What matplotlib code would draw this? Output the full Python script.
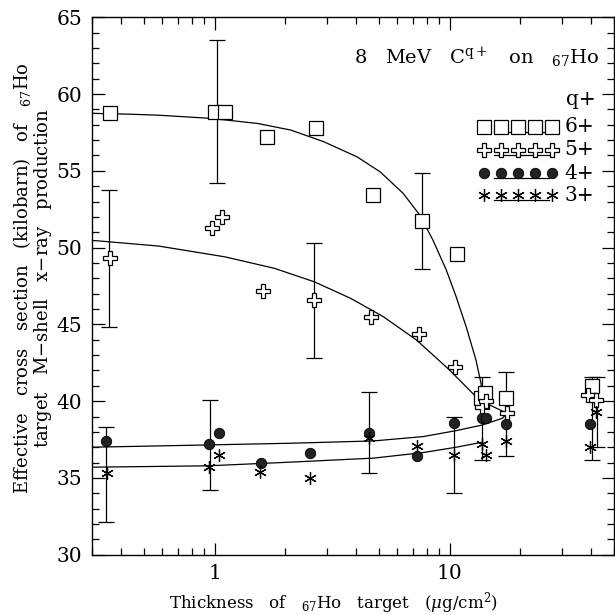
"""M-shell x-ray production cross section vs Ho target thickness."""
import numpy as np
import matplotlib
matplotlib.use("Agg")
import matplotlib.pyplot as plt
from matplotlib.ticker import LogLocator, MultipleLocator, NullFormatter, FixedLocator

plt.rcParams['font.family'] = 'DejaVu Serif'
plt.rcParams['mathtext.fontset'] = 'dejavuserif'

# data points (thickness in ug/cm2, cross section in kb)
x_q6 = [0.36, 1.00, 1.11, 1.67, 2.69, 4.73, 7.6, 10.8, 13.6, 14.2, 17.4, 40.2]
y_q6 = [58.75, 58.8, 58.8, 57.2, 57.8, 53.4, 51.7, 49.6, 40.2, 40.5, 40.2, 41.0]

x_q5 = [0.36, 0.98, 1.08, 1.61, 2.64, 4.64, 7.4, 10.6, 13.8, 14.3, 17.6, 39.0, 42.2]
y_q5 = [49.3, 51.3, 52.0, 47.2, 46.6, 45.5, 44.4, 42.2, 39.6, 40.0, 39.2, 40.4, 40.1]

x_q4 = [0.347, 0.95, 1.05, 1.58, 2.56, 4.55, 7.25, 10.4, 13.8, 14.3, 17.4, 39.6]
y_q4 = [37.4, 37.2, 37.9, 36.0, 36.6, 37.9, 36.4, 38.6, 38.9, 38.9, 38.5, 38.5]

x_q3 = [0.35, 0.95, 1.05, 1.56, 2.56, 4.55, 7.25, 10.4, 13.8, 14.3, 17.4, 39.6, 42.0]
y_q3 = [35.3, 35.7, 36.5, 35.4, 35.0, 37.6, 37.1, 36.5, 37.2, 36.5, 37.4, 37.0, 39.3]

# error bars (x, low, high)
err_x    = [0.357, 0.347, 1.02, 0.953, 2.64, 4.55, 7.6, 10.4, 13.8, 17.4, 40.2, 42.5]
err_low  = [44.8, 32.1, 54.2, 34.2, 42.8, 35.3, 48.6, 34.0, 36.2, 36.4, 36.2, 37.0]
err_high = [53.75, 38.3, 63.5, 40.1, 50.3, 40.6, 54.85, 39.0, 41.6, 41.9, 41.6, 41.6]

# fitted curves, read point by point
cx_q6 = [0.30, 0.323, 0.45, 0.578, 0.971, 1.529, 2.113, 2.92, 4.04, 5.07, 6.35, 7.47,
         8.50, 9.69, 10.67, 11.77, 12.96, 13.61, 13.82]
cy_q6 = [58.75, 58.73, 58.68, 58.62, 58.41, 58.08, 57.65, 56.89, 55.91, 54.93, 53.53, 52.12,
         50.49, 48.54, 46.80, 44.85, 42.68, 41.17, 40.08]

cx_q5 = [0.30, 0.3126, 0.578, 1.105, 1.797, 2.65, 3.79, 5.23, 7.24, 10.0, 13.38, 17.4]
cy_q5 = [50.46, 50.45, 50.10, 49.40, 48.65, 47.78, 46.70, 45.50, 43.98, 42.03, 40.08, 39.24]

cx_q4 = [0.30, 0.940, 2.113, 4.75, 7.70, 10.67, 13.82, 16.8, 17.3]
cy_q4 = [37.00, 37.15, 37.26, 37.41, 37.69, 38.08, 38.45, 38.89, 39.1]

cx_q3 = [0.30, 0.940, 2.113, 4.75, 7.70, 10.67, 13.82]
cy_q3 = [35.70, 35.79, 36.03, 36.29, 36.65, 37.00, 37.33]

series = [
    ("6+", x_q6, y_q6, dict(marker='s', ms=9.5, mfc='white', mec='black', mew=0.9)),
    ("5+", x_q5, y_q5, dict(marker='P', ms=10.5, mfc='white', mec='black', mew=0.9)),
    ("4+", x_q4, y_q4, dict(marker='o', ms=7.5, mfc='#222222', mec='black', mew=0.6)),
    ("3+", x_q3, y_q3, dict(marker=(6, 2, 0), ms=9, mfc='black', mec='black', mew=0.9)),
]

fig = plt.figure(figsize=(6.15, 6.15), dpi=100)
ax = fig.add_axes([0.149, 0.098, 0.849, 0.874])

for cx, cy in [(cx_q6, cy_q6), (cx_q5, cy_q5), (cx_q4, cy_q4), (cx_q3, cy_q3)]:
    ax.plot(cx, cy, color='black', lw=0.9, zorder=2)

err_x = np.array(err_x); lo = np.array(err_low); hi = np.array(err_high)
ax.errorbar(err_x, (lo + hi) / 2, yerr=(hi - lo) / 2, fmt='none',
            ecolor='black', elinewidth=0.9, capsize=5.5, capthick=0.9, zorder=3)

for name, xs, ys, st in series:
    ax.plot(xs, ys, ls='none', zorder=4, **st)

ax.set_xscale('log')
ax.set_xlim(0.3, 50)
ax.set_ylim(30, 65)

ax.xaxis.set_major_locator(FixedLocator([1, 10]))
ax.xaxis.set_minor_locator(LogLocator(base=10, subs=np.arange(2, 10)))
ax.xaxis.set_minor_formatter(NullFormatter())
ax.set_xticklabels(['1', '10'])
ax.yaxis.set_major_locator(MultipleLocator(5))
ax.yaxis.set_minor_locator(MultipleLocator(1))

ax.tick_params(which='both', direction='in', top=True, right=True, labelsize=14.5, width=0.9)
ax.tick_params(which='major', length=9, pad=7)
ax.tick_params(which='minor', length=5)
for s in ax.spines.values():
    s.set_linewidth(1.0)

ax.set_xlabel(r'Thickness   of   $_{67}$Ho   target   ($\mu$g/cm$^2$)', fontsize=12)
ax.xaxis.set_label_coords(0.464, -0.066)
ax.set_ylabel('Effective   cross   section   (kilobarn)   of   $_{67}$Ho\n'
              'target   M$-$shell   x$-$ray   production', fontsize=13, linespacing=0.95)
ax.yaxis.set_label_coords(-0.072, 0.515)

ax.text(0.973, 0.924, r'8   MeV   C$^{\mathregular{q+}}$   on   $_{67}$Ho', transform=ax.transAxes,
        ha='right', va='center', fontsize=14)

# hand-drawn style key
ax.text(0.965, 0.846, 'q+', transform=ax.transAxes, ha='right', va='center', fontsize=14.5)
key_y = [0.796, 0.753, 0.710, 0.669]
key_x = np.linspace(0.752, 0.882, 5)
for (name, xs, ys, st), ky in zip(series, key_y):
    ax.plot([0.77, 0.876], [ky - 0.009, ky - 0.009], color='black', lw=0.9,
            transform=ax.transAxes)
    ax.plot(key_x, [ky] * 5, ls='none', transform=ax.transAxes, zorder=5, **st)
    ax.text(0.905, ky, name, transform=ax.transAxes, ha='left', va='center', fontsize=14.5)

plt.savefig("out.png", dpi=100)
plt.close()
